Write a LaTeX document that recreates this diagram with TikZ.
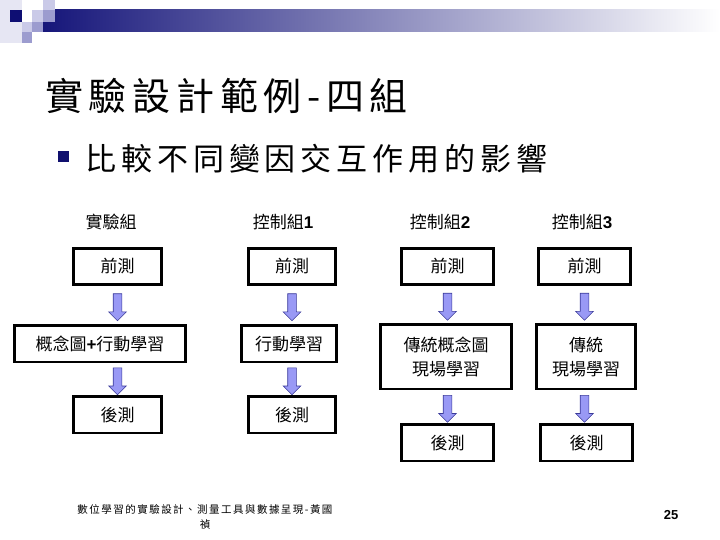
\documentclass[tikz,border=0pt]{standalone}
\usepackage{fontspec}
\setmainfont{Noto Sans CJK TC}
\newfontfamily\numfont{Liberation Sans}
\usetikzlibrary{positioning,calc,shapes.arrows}
\definecolor{hdrnavy}{HTML}{16167A}
\definecolor{sqnavy}{HTML}{0E0E73}
\definecolor{sqlight}{HTML}{CACAE8}
\definecolor{sqmid}{HTML}{9C9CCF}
\definecolor{sqpale}{HTML}{E6E6F3}
\definecolor{arrowfill}{HTML}{9999F5}
\definecolor{arrowline}{HTML}{3A3A99}
\definecolor{bulletnavy}{HTML}{10106E}
\tikzset{
  every node/.style={text=black},
  stepbox/.style={draw=black,line width=2.6pt,minimum height=36.5pt,align=center,inner sep=2pt,font=\fontsize{17}{24}\selectfont},
  twobox/.style={stepbox,minimum height=64.5pt},
  grouplabel/.style={font=\fontsize{17}{20}\selectfont,inner sep=0pt},
  blkarrow/.style={single arrow,shape border rotate=270,draw=arrowline,fill=arrowfill,line width=0.6pt,minimum height=27pt,minimum width=17pt,single arrow head extend=4.5pt,inner sep=4pt}
}

\begin{document}
\begin{tikzpicture}[x=1pt,y=-1pt]
  \useasboundingbox (0,0) rectangle (720,540);
  % header band
  \shade[left color=hdrnavy,right color=white] (43,10) rectangle (720,32);
  \fill[sqpale] (0,0) rectangle (22,43);
  \fill[sqnavy] (10,10) rectangle (22,22);
  \fill[sqlight] (22,22) rectangle (32,32);
  \fill[sqmid] (22,32) rectangle (32,43);
  \fill[sqlight] (32,10) rectangle (43,22);
  \fill[sqmid] (32,22) rectangle (43,32);
  \fill[sqlight] (43,0) rectangle (55,10);
  \fill[sqmid] (43,10) rectangle (55,22);

  \node[anchor=west,inner sep=0pt,font=\fontsize{38}{40}\selectfont\addfontfeature{LetterSpace=15}] (title) at (45,96) {實驗設計範例-四組};
  \node[fill=bulletnavy,minimum size=11pt,inner sep=0pt] (bullet) at (63,157) {};
  \node[anchor=west,inner sep=0pt,font=\fontsize{31}{34}\selectfont\addfontfeature{LetterSpace=16}] (subtitle) at (85,159) {比較不同變因交互作用的影響};

  \node[grouplabel] (grp1) at (111,222) {實驗組};
  \node[grouplabel] (grp2) at (283,222) {控制組{\numfont\bfseries 1}};
  \node[grouplabel] (grp3) at (440,222) {控制組{\numfont\bfseries 2}};
  \node[grouplabel] (grp4) at (582,222) {控制組{\numfont\bfseries 3}};

  \node[stepbox,minimum width=88.5pt] (pre1) at (117.5,266.5) {前測};
  \node[stepbox,minimum width=171.5pt,below=38pt of pre1,xshift=-17.5pt] (act1) {概念圖{\numfont\bfseries +}行動學習};
  \node[stepbox,minimum width=88.5pt,below=32pt of act1,xshift=17.5pt] (post1) {後測};

  \node[stepbox,minimum width=87.5pt] (pre2) at (292,266.5) {前測};
  \node[stepbox,minimum width=95.5pt,below=38pt of pre2,xshift=-3pt] (act2) {行動學習};
  \node[stepbox,minimum width=87.5pt,below=32pt of act2,xshift=3pt] (post2) {後測};

  \node[stepbox,minimum width=92.5pt] (pre3) at (447.5,266.5) {前測};
  \node[twobox,minimum width=131.5pt,below=37pt of pre3,xshift=-1.5pt] (act3) {傳統概念圖\\現場學習};
  \node[stepbox,minimum width=92.5pt,below=33pt of act3,xshift=1.5pt] (post3) {後測};

  \node[stepbox,minimum width=92.5pt] (pre4) at (584.5,266.5) {前測};
  \node[twobox,minimum width=99.5pt,below=37pt of pre4,xshift=1.5pt] (act4) {傳統\\現場學習};
  \node[stepbox,minimum width=92.5pt,below=33pt of act4,xshift=0.5pt] (post4) {後測};

  \foreach \c in {1,...,4} {
    \path (pre\c.south) -- (pre\c.south |- act\c.north) node[blkarrow,midway]{};
    \path (act\c.south -| pre\c) -- (post\c.north -| pre\c) node[blkarrow,midway]{};
  }

  \node[align=center,inner sep=0pt,font=\fontsize{10.5}{15}\selectfont\addfontfeature{LetterSpace=14}] (footer) at (205,517) {數位學習的實驗設計、測量工具與數據呈現-黃國\\禎};
  \node[inner sep=0pt,font=\numfont\bfseries\fontsize{13}{15}\selectfont] (pageno) at (671,515) {25};
\end{tikzpicture}
\end{document}
